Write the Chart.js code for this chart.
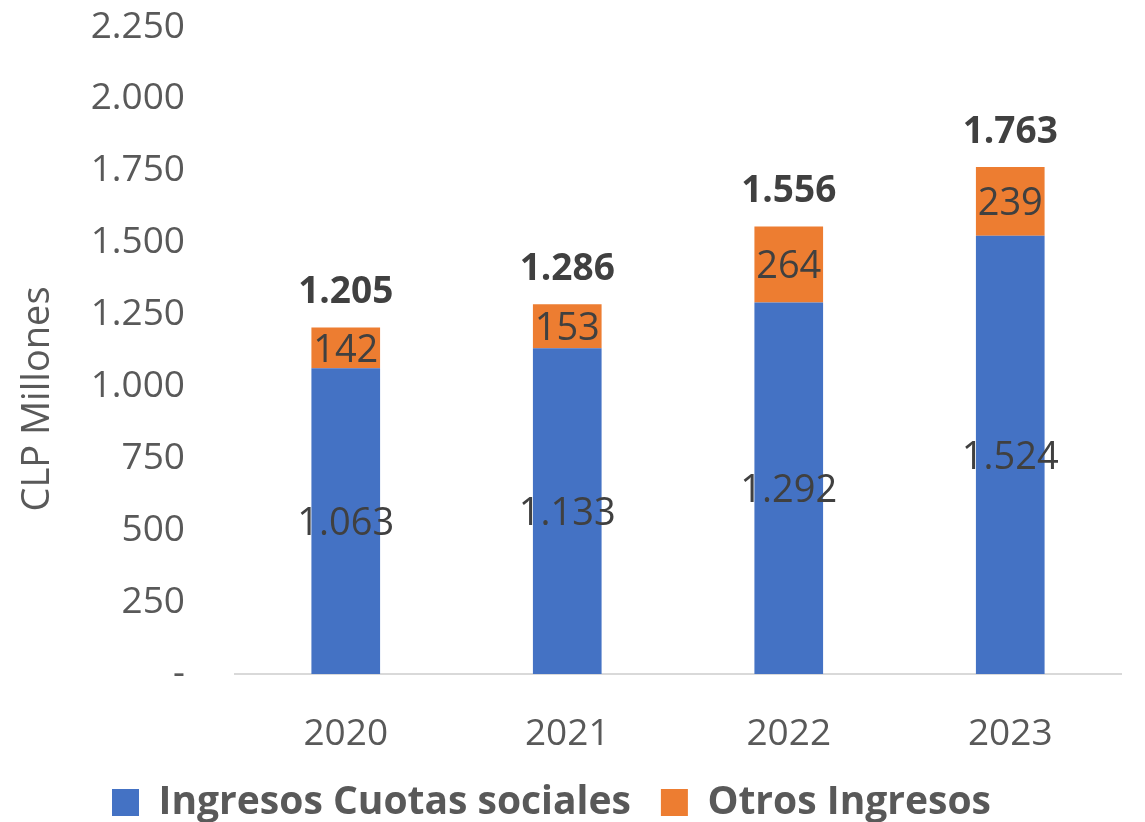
<!DOCTYPE html>
<html>
<head>
<meta charset="utf-8">
<script src="https://cdn.jsdelivr.net/npm/chart.js@4"></script>
<style>
  html, body { margin: 0; padding: 0; background: #fff; }
  #wrap { width: 1145px; height: 822px; }
</style>
</head>
<body>
<div id="wrap"><canvas id="chart-ingresos"></canvas></div>
<script>
// Datos (CLP millones)
const anios = ["2020", "2021", "2022", "2023"];
const cuotasSociales = [1063, 1133, 1292, 1524];
const otrosIngresos = [142, 153, 264, 239];
const totales = [1205, 1286, 1556, 1763];

const azul = "#4472C4";
const naranja = "#ED7D31";
const gris = "#595959";
const grisOscuro = "#404040";

// formato con punto como separador de miles
const fmt = (v) => String(v).replace(/\B(?=(\d{3})+(?!\d))/g, ".");

// etiquetas dentro de las barras + total arriba
const etiquetasPlugin = {
  id: "etiquetas",
  afterDatasetsDraw(chart) {
    const ctx = chart.ctx;
    ctx.save();
    ctx.textAlign = "center";
    ctx.textBaseline = "middle";
    ctx.fillStyle = grisOscuro;
    ctx.font = "38px 'Open Sans'";
    chart.data.datasets.forEach((ds, i) => {
      const meta = chart.getDatasetMeta(i);
      meta.data.forEach((bar, j) => {
        const { x, y, base } = bar.getProps(["x", "y", "base"], true);
        ctx.fillText(fmt(ds.data[j]), x, (y + base) / 2 + 3);
      });
    });
    // totales
    const top = chart.getDatasetMeta(1);
    ctx.font = "bold 37px 'Open Sans'";
    top.data.forEach((bar, j) => {
      const { x, y } = bar.getProps(["x", "y"], true);
      ctx.fillText(fmt(totales[j]), x, y - 35);
    });

    // titulo eje Y
    const area = chart.chartArea;
    ctx.font = "38px 'Open Sans'";
    ctx.fillStyle = gris;
    ctx.translate(38, area.top + (area.bottom - area.top) * 0.575);
    ctx.rotate(-Math.PI / 2);
    ctx.fillText("CLP Millones", 0, 0);
    ctx.restore();
  },
};

const ctx = document.getElementById("chart-ingresos").getContext("2d");
new Chart(ctx, {
  type: "bar",
  data: {
    labels: anios,
    datasets: [
      {
        label: "Ingresos Cuotas sociales",
        data: cuotasSociales,
        backgroundColor: azul,
        barPercentage: 0.62,
        categoryPercentage: 0.5,
      },
      {
        label: "Otros Ingresos",
        data: otrosIngresos,
        backgroundColor: naranja,
        barPercentage: 0.62,
        categoryPercentage: 0.5,
      },
    ],
  },
  options: {
    responsive: true,
    maintainAspectRatio: false,
    animation: false,
    layout: { padding: { top: 27, right: 24, bottom: -10, left: -18 } },
    plugins: {
      legend: {
        position: "bottom",
        labels: {
          color: gris,
          font: { family: "'Open Sans'", size: 39, weight: "bold" },
          boxWidth: 27,
          boxHeight: 27,
          padding: 30,
        },
      },
      tooltip: { enabled: false },
    },
    scales: {
      x: {
        stacked: true,
        grid: { display: false, drawTicks: true, tickLength: 42 },
        border: { color: "#d9d9d9", width: 2 },
        ticks: {
          color: gris,
          font: { family: "'Open Sans'", size: 37, lineHeight: 1.0 },
          padding: 0,
        },
        afterFit: (scale) => {
          scale.height = 79;
        },
      },
      y: {
        stacked: true,
        min: 0,
        max: 2250,
        grid: { display: false, drawTicks: true, tickLength: 50 },
        border: { display: false },
        ticks: {
          stepSize: 250,
          color: gris,
          font: { family: "'Open Sans'", size: 37 },
          padding: 0,
          callback: (v) => (v === 0 ? "-" : fmt(v)),
        },
        afterFit: (scale) => {
          scale.width = 253;
        },
      },
    },
  },
  plugins: [etiquetasPlugin],
});
</script>
</body>
</html>
